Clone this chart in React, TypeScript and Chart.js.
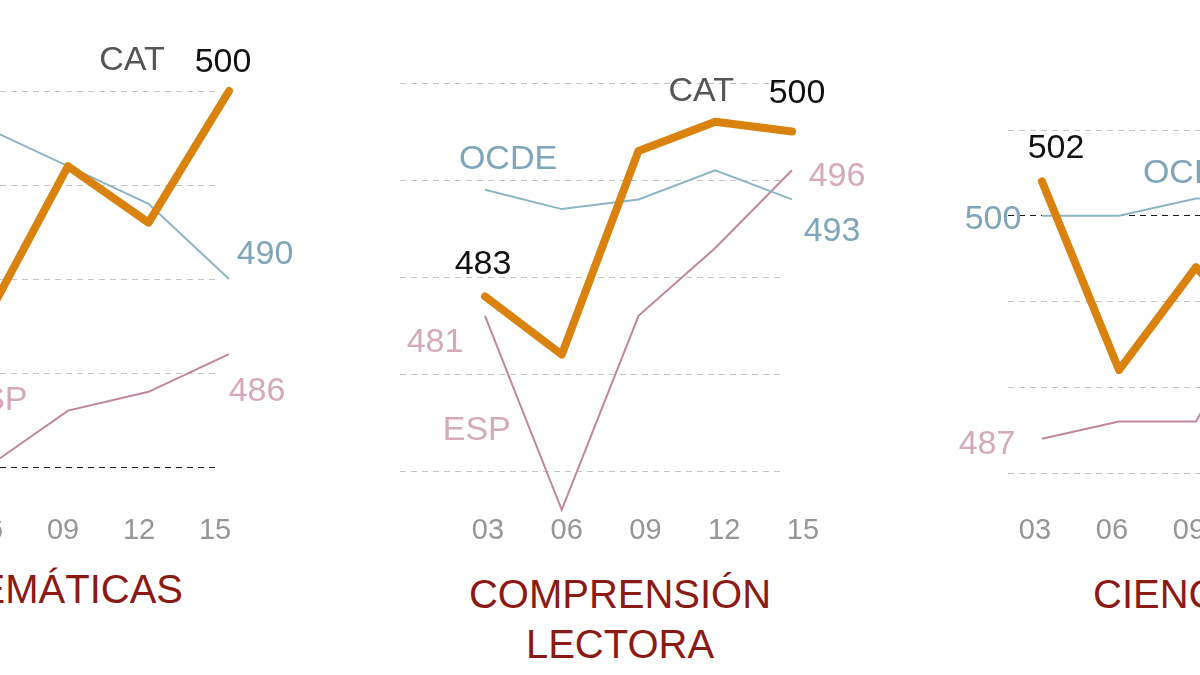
import React, { useEffect, useRef } from "react";
import { Chart, registerables } from "chart.js";

Chart.register(...registerables);

// ---------- data ----------
const YEARS = ["03", "06", "09", "12", "15"];

const MATH_CAT = [494, 488, 496, 493, 500];
const MATH_ESP = [485, 480, 483, 484, 486];
const MATH_OCDE = [500, 498, 496, 494, 490];

const READ_CAT = [483, 477, 498, 501, 500];
const READ_ESP = [481, 461, 481, 488, 496];
const READ_OCDE = [494, 492, 493, 496, 493];

const SCI_CAT = [502, 491, 497, 492, 504];
const SCI_ESP = [487, 488, 488, 496, 493];
const SCI_OCDE = [500, 500, 501, 501, 493];

const MATH_GRID = [500, 495, 490, 485, 480];
const READ_GRID = [505, 495, 485, 475, 465];
const SCI_GRID = [505, 500, 495, 490, 485];

// ---------- styles ----------
const FONT = "'Liberation Sans', Arial, Helvetica, sans-serif";
const C_CAT = "#d9830e";
const C_OCDE = "#8db4c4";
const C_ESP = "#c2849f";
const T_OCDE = "#7fa5b8";
const T_ESP = "#d4a9bb";
const T_CAT = "#555555";
const T_NUM = "#111111";
const TITLE = "#8b1a14";

type Lbl = { text: string; color: string; ds: number; i: number; dx: number; dy: number };

const labelPlugin = {
  id: "panelLabels",
  afterDatasetsDraw(chart: any, _args: any, opts: any) {
    const ctx = chart.ctx;
    ctx.save();
    ctx.font = `34px ${FONT}`;
    ctx.textAlign = "center";
    ctx.textBaseline = "middle";
    (opts.items || []).forEach((l: Lbl) => {
      const el = chart.getDatasetMeta(l.ds).data[l.i];
      ctx.fillStyle = l.color;
      ctx.fillText(l.text, el.x + l.dx, el.y + l.dy + 3);
    });
    ctx.restore();
  },
};

type PanelCfg = {
  cat: number[];
  esp: number[];
  ocde: number[];
  grid: number[];
  refLine: number | null;
  left: number;
  width: number;
  height: number;
  pad: { left: number; right: number; top: number };
  axisH: number;
  tickGap: number;
  xr: [number, number];
  xl: [number, number];
  yr: [number, number];
  labels: Lbl[];
};

function Panel({ cfg }: { cfg: PanelCfg }) {
  const ref = useRef<HTMLCanvasElement>(null);
  useEffect(() => {
    if (!ref.current) return;
    const mk = (vals: number[]) => vals.map((v, i) => ({ x: i, y: v }));
    const chart = new Chart(ref.current, {
      type: "line",
      data: {
        datasets: [
          {
            data: mk(cfg.cat),
            borderColor: C_CAT,
            borderWidth: 8,
            borderCapStyle: "round",
            borderJoinStyle: "round",
            pointRadius: 0,
            tension: 0,
            clip: false,
            xAxisID: "x",
            yAxisID: "y",
          },
          {
            data: mk(cfg.ocde),
            borderColor: C_OCDE,
            borderWidth: 2,
            pointRadius: 0,
            tension: 0,
            clip: false,
            xAxisID: "x",
            yAxisID: "y",
          },
          {
            data: mk(cfg.esp),
            borderColor: C_ESP,
            borderWidth: 2,
            pointRadius: 0,
            tension: 0,
            clip: false,
            xAxisID: "x",
            yAxisID: "y",
          },
        ] as any,
      },
      options: {
        responsive: false,
        animation: false,
        devicePixelRatio: 1,
        layout: { padding: { left: cfg.pad.left, right: cfg.pad.right, top: cfg.pad.top, bottom: 0 } },
        plugins: {
          legend: { display: false },
          tooltip: { enabled: false },
          panelLabels: { items: cfg.labels },
        } as any,
        scales: {
          x: { type: "linear", display: false, min: cfg.xr[0], max: cfg.xr[1] },
          xt: {
            type: "linear",
            position: "bottom",
            min: cfg.xl[0],
            max: cfg.xl[1],
            grid: {
              display: true,
              drawOnChartArea: false,
              drawTicks: true,
              tickLength: cfg.tickGap,
              color: "rgba(0,0,0,0)",
            },
            border: { display: false },
            afterBuildTicks: (s: any) => {
              s.ticks = YEARS.map((_, i) => ({ value: i }));
            },
            afterFit: (s: any) => {
              s.height = cfg.axisH;
            },
            ticks: {
              autoSkip: false,
              maxRotation: 0,
              padding: 0,
              color: "#969696",
              font: { family: FONT, size: 29 },
              callback: (v: any) => YEARS[Number(v)] ?? "",
            },
          },
          y: {
            type: "linear",
            position: "left",
            min: cfg.yr[0],
            max: cfg.yr[1],
            afterBuildTicks: (s: any) => {
              s.ticks = cfg.grid.map((v) => ({ value: v }));
            },
            afterFit: (s: any) => {
              s.width = 0;
            },
            ticks: { display: false, padding: 0 },
            grid: {
              drawTicks: false,
              lineWidth: 1,
              color: (c: any) =>
                c.tick && cfg.refLine !== null && c.tick.value === cfg.refLine ? "#1a1a1a" : "#c4c4c4",
            },
            border: { display: false, dash: [6, 5] },
          },
        } as any,
      },
      plugins: [labelPlugin],
    } as any);
    return () => chart.destroy();
  }, [cfg]);
  return (
    <canvas
      ref={ref}
      width={cfg.width}
      height={cfg.height}
      style={{ position: "absolute", left: cfg.left, top: 0, width: cfg.width, height: cfg.height }}
    />
  );
}

const MATH: PanelCfg = {
  cat: MATH_CAT,
  esp: MATH_ESP,
  ocde: MATH_OCDE,
  grid: MATH_GRID,
  refLine: 480,
  left: -120,
  width: 420,
  height: 560,
  pad: { left: 10, right: 82, top: 91 },
  axisH: 93,
  tickGap: 47,
  xr: [-0.211, 3.863],
  xl: [-0.276, 4.039],
  yr: [480, 500],
  labels: [
    { text: "CAT", color: T_CAT, ds: 0, i: 4, dx: -97, dy: -33 },
    { text: "500", color: T_NUM, ds: 0, i: 4, dx: -6, dy: -31 },
    { text: "490", color: T_OCDE, ds: 1, i: 4, dx: 36, dy: -27 },
    { text: "486", color: T_ESP, ds: 2, i: 4, dx: 28, dy: 34 },
    { text: "ESP", color: T_ESP, ds: 2, i: 1, dx: 6, dy: -69 },
  ],
};

const READ: PanelCfg = {
  cat: READ_CAT,
  esp: READ_ESP,
  ocde: READ_OCDE,
  grid: READ_GRID,
  refLine: null,
  left: 390,
  width: 500,
  height: 560,
  pad: { left: 10, right: 106, top: 83 },
  axisH: 89,
  tickGap: 43,
  xr: [-1.1075, 3.8958],
  xl: [-1.1175, 3.7587],
  yr: [465, 505],
  labels: [
    { text: "CAT", color: T_CAT, ds: 0, i: 3, dx: -14, dy: -33 },
    { text: "500", color: T_NUM, ds: 0, i: 4, dx: 5, dy: -41 },
    { text: "OCDE", color: T_OCDE, ds: 1, i: 0, dx: 23, dy: -33 },
    { text: "483", color: T_NUM, ds: 0, i: 0, dx: -2, dy: -35 },
    { text: "481", color: T_ESP, ds: 2, i: 0, dx: -50, dy: 24 },
    { text: "ESP", color: T_ESP, ds: 2, i: 1, dx: -85, dy: -82 },
    { text: "496", color: T_ESP, ds: 2, i: 4, dx: 45, dy: 3 },
    { text: "493", color: T_OCDE, ds: 1, i: 4, dx: 40, dy: 29 },
  ],
};

const SCI: PanelCfg = {
  cat: SCI_CAT,
  esp: SCI_ESP,
  ocde: SCI_OCDE,
  grid: SCI_GRID,
  refLine: 500,
  left: 940,
  width: 480,
  height: 560,
  pad: { left: 68, right: 78, top: 130 },
  axisH: 87,
  tickGap: 41,
  xr: [-0.4416, 3.896],
  xl: [-0.3506, 3.987],
  yr: [485, 505],
  labels: [
    { text: "502", color: T_NUM, ds: 0, i: 0, dx: 14, dy: -36 },
    { text: "500", color: T_OCDE, ds: 1, i: 0, dx: -49, dy: 1 },
    { text: "487", color: T_ESP, ds: 2, i: 0, dx: -55, dy: 3 },
    { text: "OCDE", color: T_OCDE, ds: 1, i: 2, dx: -4, dy: -28 },
  ],
};

const titleStyle: React.CSSProperties = {
  position: "absolute",
  fontFamily: FONT,
  fontSize: 40,
  lineHeight: "50px",
  color: TITLE,
  whiteSpace: "nowrap",
};

export default function App() {
  return (
    <div
      style={{
        position: "absolute",
        left: 0,
        top: 0,
        width: 1200,
        height: 675,
        overflow: "hidden",
        background: "#ffffff",
      }}
    >
      <Panel cfg={MATH} />
      <Panel cfg={READ} />
      <Panel cfg={SCI} />
      <div style={{ ...titleStyle, left: -217, top: 564, width: 400, textAlign: "right" }}>MATEMÁTICAS</div>
      <div style={{ ...titleStyle, left: 420, top: 569, width: 400, textAlign: "center" }}>
        COMPRENSIÓN
        <br />
        LECTORA
      </div>
      <div style={{ ...titleStyle, left: 1093, top: 569 }}>CIENCIAS</div>
    </div>
  );
}
